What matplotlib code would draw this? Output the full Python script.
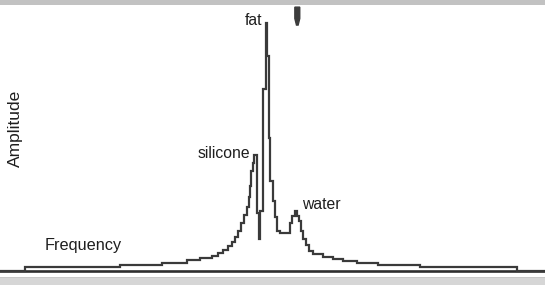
import matplotlib
matplotlib.use("Agg")
import matplotlib.pyplot as plt
import numpy as np

# Step trace of the spectrum: frequency edges and amplitude level held from each edge
freq = [0, 25, 120, 162, 187, 200, 212, 218, 223, 228, 232, 235, 238, 241, 244,
        247, 249, 250, 251, 252.5, 254, 256.5, 258.8, 260.3, 262.5, 265.5, 266.5,
        268.5, 270, 272.5, 275, 277, 279.5, 289.5, 292, 294.5, 296.5, 299, 301,
        303, 306, 309, 313, 323, 333, 343, 357, 378, 420, 517, 545]
amp = [0, 3.5, 6, 8, 10.5, 13, 15, 18, 21, 25, 29, 34, 40, 48, 56,
       64, 74, 85, 100, 108, 116, 58, 32, 60, 182, 248, 215,
       133, 90, 70, 54, 40, 38, 48, 55, 60, 55, 50, 40,
       32, 26, 20, 17, 14, 12, 10, 8, 6, 3.5, 0, 0]

peak_labels = ["fat", "silicone", "water"]
x_label = "Frequency"
y_label = "Amplitude"

plt.rcParams['font.family'] = ['Liberation Sans', 'DejaVu Sans']

fig = plt.figure(figsize=(5.45, 2.85), dpi=100)
ax = fig.add_axes([0, 0, 1, 1])
ax.set_xlim(0, 545)
ax.set_ylim(-14.5, 270.5)
ax.axis('off')

# frame bands
ax.axhspan(265.5, 270.5, color='#c2c2c2', lw=0)
ax.axhspan(-14.5, -6.5, color='#d6d6d6', lw=0)
ax.axhspan(-7.5, -6.5, color='#c8c8c8', lw=0)

# baseline axis
ax.axhline(0, color='#2e2e2e', lw=1.9, zorder=2)

# spectrum
ax.step(freq, amp, where='post', color='#3a3a3a', lw=1.6, zorder=3,
        solid_joinstyle='miter')

# pointer marker at top
px = [0.541, 0.550, 0.550, 0.547, 0.544, 0.541]
py = [0.975, 0.975, 0.935, 0.912, 0.912, 0.935]
ax.fill(px, py, color='#3c3c3c', transform=ax.transAxes, zorder=4)

tc = '#1e1e1e'
ax.text(262, 250, peak_labels[0], ha='right', va='center', fontsize=11.3, color=tc)
ax.text(250, 117, peak_labels[1], ha='right', va='center', fontsize=11.3, color=tc)
ax.text(302, 66, peak_labels[2], ha='left', va='center', fontsize=11.3, color=tc)
ax.text(45, 25, x_label, ha='left', va='center', fontsize=11.7, color=tc)
ax.text(15, 142, y_label, ha='center', va='center', rotation=90, fontsize=12.5, color=tc)

fig.savefig("out.png", dpi=100)
